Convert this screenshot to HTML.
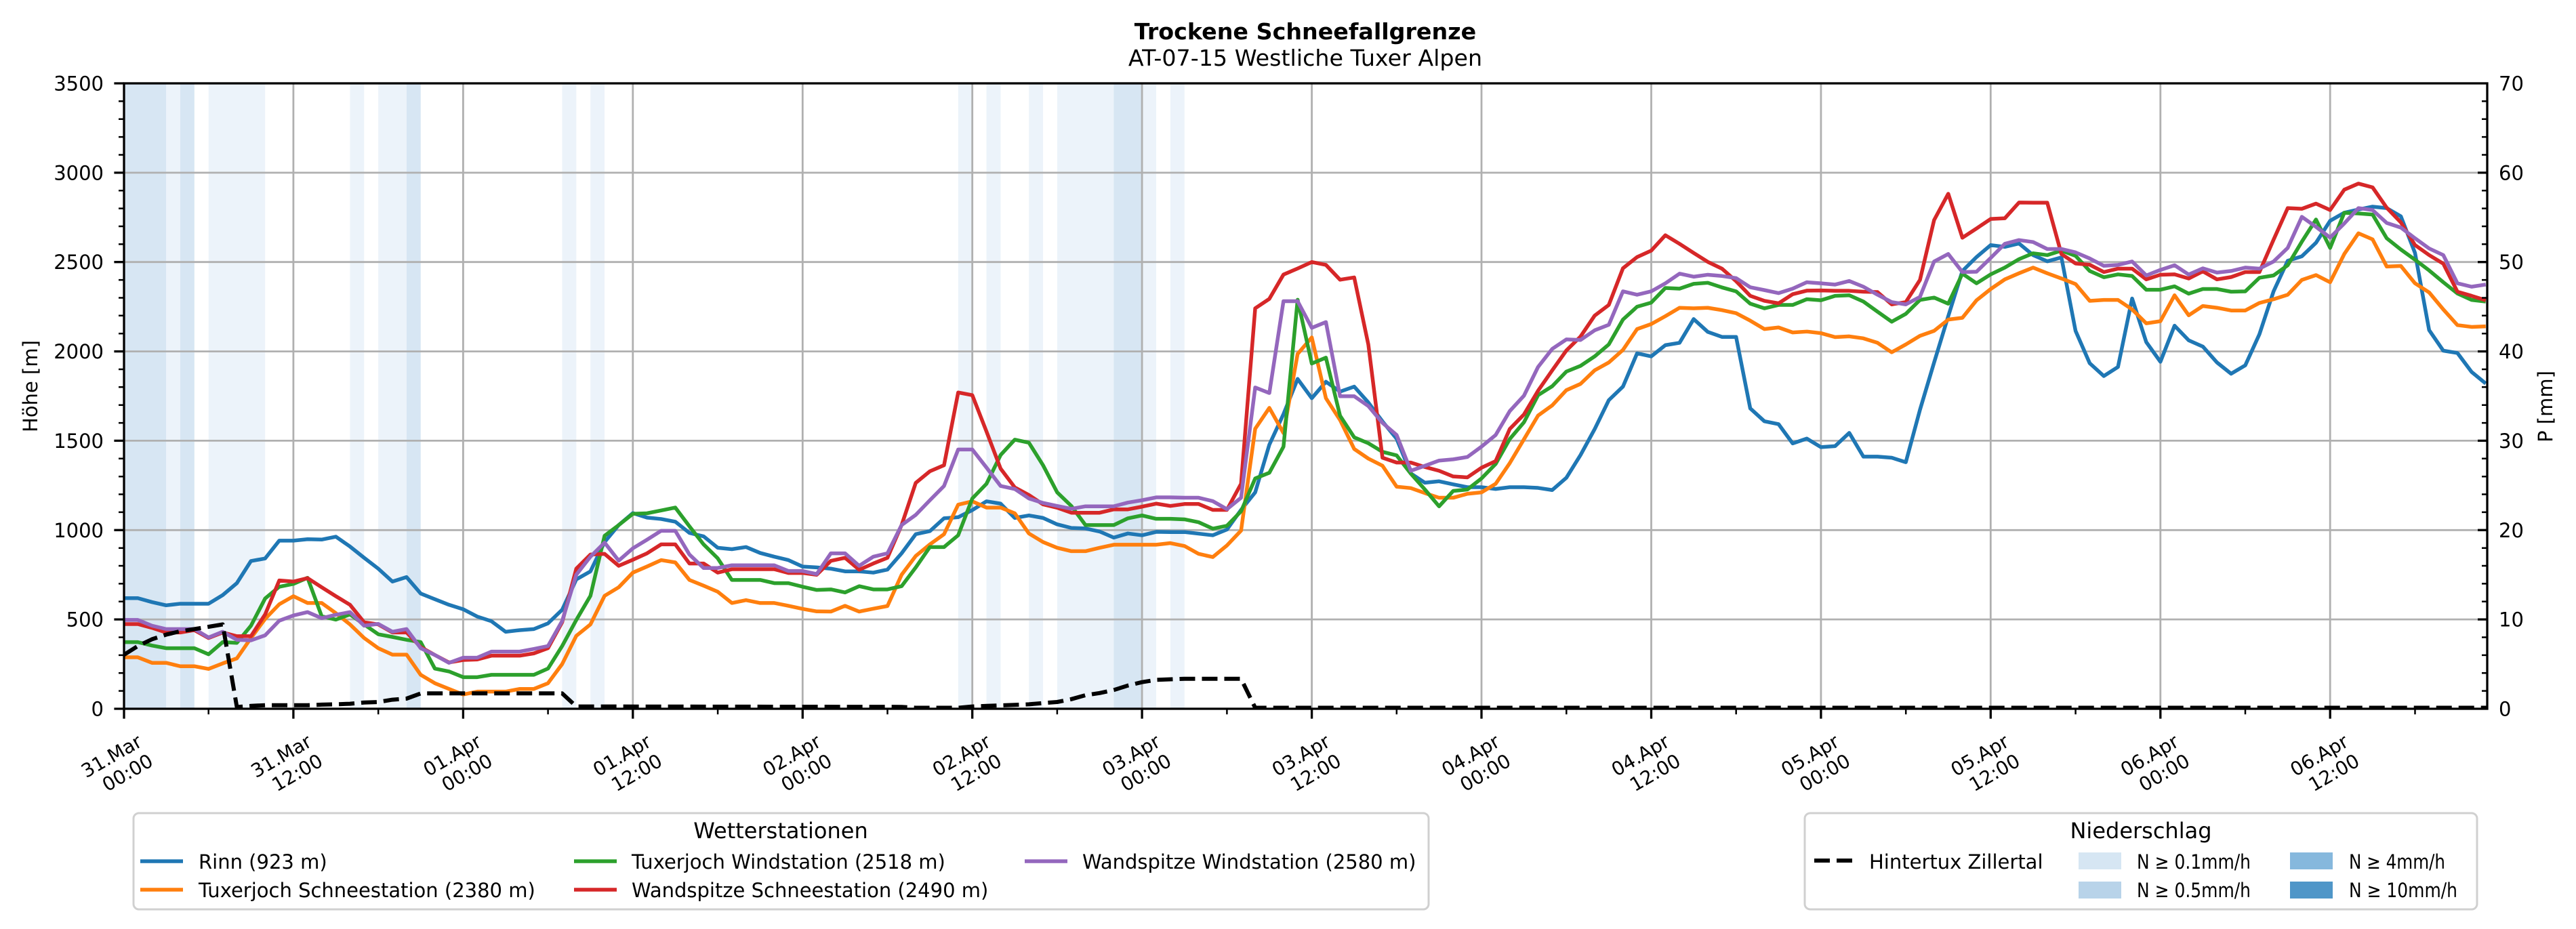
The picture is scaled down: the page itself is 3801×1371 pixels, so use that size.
<!DOCTYPE html>
<html><head><meta charset="utf-8">
<style>
html,body{margin:0;padding:0;background:#fff;}
svg{display:block;}
text{font-family:"DejaVu Sans","Liberation Sans",sans-serif;fill:#000;}
</style></head>
<body>
<svg width="3801" height="1371" viewBox="0 0 3801 1371" xmlns="http://www.w3.org/2000/svg">
<defs>
<clipPath id="ax"><rect x="183" y="123" width="3487" height="923"/></clipPath>
</defs>
<rect x="0" y="0" width="3801" height="1371" fill="#fff"/>

<!-- precipitation bands -->
<g transform="matrix(20.87 0 0 -0.26371 182.5 1046)">
<g fill="#ecf3fa">
<rect x="3" y="0" width="1" height="3500"/>
<rect x="6" y="0" width="4" height="3500"/>
<rect x="16" y="0" width="1" height="3500"/>
<rect x="18" y="0" width="2" height="3500"/>
<rect x="31" y="0" width="1" height="3500"/>
<rect x="33" y="0" width="1" height="3500"/>
<rect x="59" y="0" width="1" height="3500"/>
<rect x="61" y="0" width="1" height="3500"/>
<rect x="64" y="0" width="1" height="3500"/>
<rect x="66" y="0" width="4" height="3500"/>
<rect x="72" y="0" width="1" height="3500"/>
<rect x="74" y="0" width="1" height="3500"/>
</g>
<g fill="#d7e6f3">
<rect x="0" y="0" width="3" height="3500"/>
<rect x="4" y="0" width="1" height="3500"/>
<rect x="20" y="0" width="1" height="3500"/>
<rect x="70" y="0" width="2" height="3500"/>
</g>
</g>

<!-- grid -->
<g stroke="#b0b0b0" stroke-width="2.8" fill="none">
<path d="M432.9 123V1046M683.4 123V1046M933.8 123V1046M1184.3 123V1046M1434.7 123V1046M1685.1 123V1046M1935.6 123V1046M2186 123V1046M2436.5 123V1046M2686.9 123V1046M2937.3 123V1046M3187.8 123V1046M3438.2 123V1046"/>
<path d="M183 914.1H3670M183 782.3H3670M183 650.4H3670M183 518.6H3670M183 386.7H3670M183 254.9H3670"/>
</g>

<!-- series -->
<g clip-path="url(#ax)">
<g transform="matrix(20.87 0 0 -0.26371 182.5 1046)" fill="none" stroke-linejoin="round" stroke-linecap="butt">
<polyline vector-effect="non-scaling-stroke" stroke="#1f77b4" stroke-width="5.5" points="0,619 1,619 2,597 3,579 4,588 5,588 6,588 7,636 8,703 9,827 10,841 11,941 12,941 13,949 14,947 15,963 16,908 17,845 18,784 19,712 20,737 21,645 22,613 23,582 24,557 25,516 26,490 27,431 28,440 29,446 30,478 31,554 32,724 33,769 34,933 35,1028 36,1095 37,1070 38,1062 39,1047 40,984 41,965 42,901 43,893 44,905 45,872 46,851 47,832 48,796 49,791 50,784 51,769 52,769 53,762 54,779 55,870 56,977 57,994 58,1066 59,1072 60,1112 61,1161 62,1148 63,1068 64,1082 65,1068 66,1032 67,1012 68,1009 69,992 70,958 71,981 72,971 73,990 74,989 75,989 76,980 77,971 78,1003 79,1113 80,1211 81,1478 82,1649 83,1846 84,1738 85,1830 86,1775 87,1803 88,1714 89,1608 90,1511 91,1317 92,1265 93,1273 94,1256 95,1240 96,1240 97,1230 98,1240 99,1240 100,1236 101,1224 102,1293 103,1420 104,1565 105,1727 106,1803 107,1989 108,1972 109,2035 110,2048 111,2181 112,2109 113,2081 114,2081 115,1681 116,1609 117,1593 118,1485 119,1512 120,1464 121,1470 122,1544 123,1411 124,1411 125,1405 126,1380 127,1673 128,1938 129,2197 130,2450 131,2528 132,2595 133,2585 134,2604 135,2539 136,2504 137,2526 138,2115 139,1934 140,1862 141,1913 142,2296 143,2052 144,1942 145,2144 146,2062 147,2027 148,1938 149,1875 150,1922 151,2096 152,2336 153,2507 154,2532 155,2608 156,2731 157,2776 158,2794 159,2810 160,2802 161,2756 162,2551 163,2119 164,2004 165,1991 166,1885 167,1820"/>
<polyline vector-effect="non-scaling-stroke" stroke="#ff7f0e" stroke-width="5.5" points="0,288 1,288 2,257 3,257 4,238 5,238 6,223 7,254 8,282 9,396 10,503 11,585 12,630 13,592 14,592 15,535 16,472 17,396 18,339 19,303 20,303 21,190 22,143 23,111 24,80 25,96 26,96 27,96 28,111 29,111 30,143 31,250 32,408 33,472 34,632 35,680 36,762 37,796 38,832 39,819 40,721 41,689 42,655 43,592 44,608 45,592 46,592 47,576 48,559 49,545 50,544 51,576 52,544 53,560 54,575 55,750 56,855 57,920 58,977 59,1142 60,1161 61,1126 62,1126 63,1094 64,981 65,933 66,901 67,882 68,882 69,901 70,918 71,918 72,918 73,918 74,927 75,911 76,867 77,849 78,914 79,997 80,1567 81,1684 82,1543 83,1986 84,2078 85,1738 86,1616 87,1454 88,1400 89,1360 90,1243 91,1235 92,1207 93,1181 94,1181 95,1203 96,1211 97,1259 98,1375 99,1508 100,1641 101,1698 102,1783 103,1818 104,1894 105,1938 106,2008 107,2125 108,2153 109,2197 110,2244 111,2241 112,2244 113,2231 114,2214 115,2172 116,2125 117,2134 118,2106 119,2111 120,2102 121,2080 122,2084 123,2073 124,2048 125,1995 126,2039 127,2087 128,2115 129,2178 130,2188 131,2286 132,2349 133,2403 134,2437 135,2469 136,2437 137,2408 138,2377 139,2283 140,2288 141,2288 142,2235 143,2157 144,2169 145,2314 146,2202 147,2254 148,2244 149,2229 150,2229 151,2271 152,2292 153,2317 154,2400 155,2427 156,2387 157,2545 158,2661 159,2627 160,2475 161,2478 162,2381 163,2330 164,2235 165,2147 166,2137 167,2140"/>
<polyline vector-effect="non-scaling-stroke" stroke="#2ca02c" stroke-width="5.5" points="0,373 1,373 2,354 3,339 4,339 5,339 6,305 7,373 8,369 9,465 10,617 11,683 12,699 13,733 14,518 15,499 16,528 17,472 18,417 19,402 20,386 21,373 22,225 23,209 24,177 25,177 26,190 27,190 28,190 29,190 30,225 31,351 32,497 33,632 34,968 35,1028 36,1091 37,1094 38,1110 39,1126 40,1021 41,920 42,842 43,721 44,721 45,721 46,703 47,703 48,683 49,665 50,668 51,651 52,686 53,668 54,668 55,686 56,791 57,905 58,905 59,971 60,1177 61,1259 62,1420 63,1506 64,1489 65,1363 66,1211 67,1135 68,1028 69,1028 70,1028 71,1066 72,1082 73,1063 74,1063 75,1060 76,1044 77,1008 78,1024 79,1105 80,1289 81,1321 82,1467 83,2289 84,1932 85,1965 86,1640 87,1519 88,1486 89,1438 90,1418 91,1316 92,1227 93,1133 94,1219 95,1227 96,1289 97,1370 98,1510 99,1603 100,1755 101,1805 102,1887 103,1919 104,1972 105,2039 106,2178 107,2250 108,2273 109,2355 110,2351 111,2378 112,2384 113,2358 114,2336 115,2267 116,2241 117,2260 118,2260 119,2292 120,2286 121,2311 122,2314 123,2279 124,2222 125,2166 126,2210 127,2288 128,2301 129,2267 130,2435 131,2381 132,2431 133,2469 134,2516 135,2549 136,2539 137,2564 138,2535 139,2450 140,2415 141,2431 142,2422 143,2345 144,2345 145,2364 146,2323 147,2349 148,2349 149,2334 150,2336 151,2412 152,2425 153,2482 154,2614 155,2738 156,2579 157,2776 158,2772 159,2766 160,2633 161,2570 162,2513 163,2453 164,2387 165,2324 166,2288 167,2279"/>
<polyline vector-effect="non-scaling-stroke" stroke="#d62728" stroke-width="5.5" points="0,474 1,474 2,453 3,427 4,427 5,440 6,396 7,427 8,406 9,406 10,528 11,718 12,712 13,731 14,680 15,630 16,582 17,484 18,472 19,427 20,427 21,345 22,301 23,259 24,273 25,276 26,297 27,297 28,297 29,310 30,339 31,484 32,784 33,863 34,867 35,800 36,834 37,870 38,920 39,920 40,813 41,813 42,762 43,781 44,781 45,781 46,781 47,760 48,760 49,750 50,828 51,845 52,778 53,813 54,845 55,1028 56,1264 57,1329 58,1363 59,1770 60,1755 61,1552 62,1344 63,1239 64,1196 65,1144 66,1125 67,1097 68,1097 69,1097 70,1116 71,1116 72,1131 73,1148 74,1135 75,1146 76,1146 77,1113 78,1113 79,1259 80,2241 81,2294 82,2430 83,2464 84,2500 85,2484 86,2401 87,2414 88,2038 89,1405 90,1378 91,1378 92,1353 93,1332 94,1300 95,1295 96,1349 97,1386 98,1566 99,1647 100,1780 101,1894 102,2005 103,2083 104,2200 105,2260 106,2465 107,2528 108,2564 109,2650 110,2602 111,2551 112,2501 113,2463 114,2393 115,2311 116,2283 117,2269 118,2320 119,2340 120,2341 121,2339 122,2339 123,2334 124,2332 125,2263 126,2276 127,2400 128,2735 129,2882 130,2636 131,2688 132,2741 133,2745 134,2833 135,2832 136,2832 137,2545 138,2492 139,2485 140,2444 141,2463 142,2463 143,2403 144,2429 145,2431 146,2408 147,2448 148,2403 149,2416 150,2444 151,2444 152,2625 153,2802 154,2798 155,2827 156,2791 157,2905 158,2939 159,2918 160,2804 161,2722 162,2595 163,2539 164,2491 165,2334 166,2311 167,2286"/>
<polyline vector-effect="non-scaling-stroke" stroke="#9467bd" stroke-width="5.5" points="0,497 1,497 2,465 3,446 4,446 5,446 6,399 7,431 8,386 9,383 10,411 11,493 12,522 13,541 14,507 15,526 16,541 17,465 18,475 19,431 20,446 21,339 22,301 23,257 24,286 25,286 26,320 27,320 28,320 29,335 30,351 31,491 32,750 33,851 34,930 35,829 36,898 37,946 38,996 39,996 40,863 41,788 42,788 43,803 44,803 45,803 46,803 47,771 48,771 49,754 50,870 51,870 52,800 53,851 54,870 55,1028 56,1085 57,1167 58,1247 59,1451 60,1451 61,1350 62,1247 63,1230 64,1177 65,1152 66,1135 67,1119 68,1133 69,1133 70,1133 71,1154 72,1167 73,1183 74,1183 75,1181 76,1181 77,1162 78,1117 79,1181 80,1798 81,1767 82,2281 83,2281 84,2132 85,2164 86,1749 87,1749 88,1694 89,1600 90,1532 91,1332 92,1360 93,1389 94,1396 95,1409 96,1467 97,1532 98,1666 99,1752 100,1913 101,2014 102,2067 103,2064 104,2118 105,2149 106,2336 107,2317 108,2336 109,2381 110,2435 111,2418 112,2429 113,2422 114,2410 115,2359 116,2343 117,2326 118,2351 119,2387 120,2381 121,2374 122,2394 123,2362 124,2317 125,2276 126,2263 127,2305 128,2503 129,2545 130,2444 131,2446 132,2523 133,2602 134,2623 135,2612 136,2573 137,2573 138,2554 139,2520 140,2479 141,2484 142,2503 143,2425 144,2456 145,2482 146,2430 147,2465 148,2441 149,2450 150,2469 151,2463 152,2503 153,2579 154,2753 155,2697 156,2637 157,2716 158,2802 159,2791 160,2719 161,2693 162,2633 163,2576 164,2539 165,2381 166,2362 167,2374"/>
</g>
<polyline fill="none" stroke="#000" stroke-width="6" stroke-dasharray="23,10" stroke-linejoin="round" points="182.5,966.6 203.4,953.4 224.2,943.4 245.1,936.6 266,931.6 286.9,928.4 307.7,925 328.6,921.5 349.5,1043.4 370.3,1041.8 391.2,1040.7 453.8,1040.7 474.7,1039.9 495.6,1039.4 516.4,1038.6 537.3,1036.8 558.2,1036 579,1032.6 599.9,1031 620.8,1023.3 829.5,1023.3 850.3,1042.6 1330.4,1043.2 1351.2,1044.5 1413.8,1044.5 1434.7,1042.6 1455.6,1041.8 1476.4,1041 1497.3,1040.2 1518.2,1039.4 1539.1,1037.6 1559.9,1036 1580.8,1031.8 1601.7,1026 1622.5,1022.8 1643.4,1018.3 1664.3,1011.7 1685.1,1006.7 1706,1003.3 1726.9,1002.5 1747.8,1001.7 1831.2,1001.7 1852.1,1044.5 3670,1044.5"/>
</g>

<!-- spines -->
<rect x="183" y="123" width="3487" height="923" fill="none" stroke="#000" stroke-width="3.3"/>

<!-- ticks -->
<g stroke="#000" stroke-width="3.3" fill="none">
<path d="M168.4 1046H183M168.4 914.1H183M168.4 782.3H183M168.4 650.4H183M168.4 518.6H183M168.4 386.7H183M168.4 254.9H183M168.4 123H183"/>
<path stroke-width="2.5" d="M175 1019.6H183M175 993.3H183M175 966.9H183M175 940.5H183M175 887.8H183M175 861.4H183M175 835H183M175 808.7H183M175 755.9H183M175 729.5H183M175 703.2H183M175 676.8H183M175 624.1H183M175 597.7H183M175 571.3H183M175 545H183M175 492.2H183M175 465.8H183M175 439.5H183M175 413.1H183M175 360.4H183M175 334H183M175 307.6H183M175 281.2H183M175 228.5H183M175 202.1H183M175 175.8H183M175 149.4H183"/>
<path d="M3656 914.1H3670M3656 782.3H3670M3656 650.4H3670M3656 518.6H3670M3656 386.7H3670M3656 254.9H3670"/>
<path stroke-width="2.5" d="M3662 1019.6H3670M3662 993.3H3670M3662 966.9H3670M3662 940.5H3670M3662 887.8H3670M3662 861.4H3670M3662 835H3670M3662 808.7H3670M3662 755.9H3670M3662 729.5H3670M3662 703.2H3670M3662 676.8H3670M3662 624.1H3670M3662 597.7H3670M3662 571.3H3670M3662 545H3670M3662 492.2H3670M3662 465.8H3670M3662 439.5H3670M3662 413.1H3670M3662 360.4H3670M3662 334H3670M3662 307.6H3670M3662 281.2H3670M3662 228.5H3670M3662 202.1H3670M3662 175.8H3670M3662 149.4H3670"/>
<path d="M183 1046V1060.6M432.9 1046V1060.6M683.4 1046V1060.6M933.8 1046V1060.6M1184.3 1046V1060.6M1434.7 1046V1060.6M1685.1 1046V1060.6M1935.6 1046V1060.6M2186 1046V1060.6M2436.5 1046V1060.6M2686.9 1046V1060.6M2937.3 1046V1060.6M3187.8 1046V1060.6M3438.2 1046V1060.6"/>
<path stroke-width="2.5" d="M307.7 1046V1054.3M558.2 1046V1054.3M808.6 1046V1054.3M1059.1 1046V1054.3M1309.5 1046V1054.3M1559.9 1046V1054.3M1810.4 1046V1054.3M2060.8 1046V1054.3M2311.3 1046V1054.3M2561.7 1046V1054.3M2812.2 1046V1054.3M3062.6 1046V1054.3M3313 1046V1054.3M3563.5 1046V1054.3"/>
</g>

<!-- titles -->
<text x="1926" y="58" font-size="33.3" font-weight="bold" text-anchor="middle">Trockene Schneefallgrenze</text>
<text x="1926" y="97" font-size="33.3" text-anchor="middle">AT-07-15 Westliche Tuxer Alpen</text>

<!-- left y tick labels -->
<g font-size="29" text-anchor="end">
<text x="153" y="1056.5">0</text>
<text x="153" y="924.6">500</text>
<text x="153" y="792.8">1000</text>
<text x="153" y="660.9">1500</text>
<text x="153" y="529.1">2000</text>
<text x="153" y="397.2">2500</text>
<text x="153" y="265.4">3000</text>
<text x="153" y="133.5">3500</text>
</g>
<!-- right y tick labels -->
<g font-size="29" text-anchor="start">
<text x="3687" y="1056.5">0</text>
<text x="3687" y="924.6">10</text>
<text x="3687" y="792.8">20</text>
<text x="3687" y="660.9">30</text>
<text x="3687" y="529.1">40</text>
<text x="3687" y="397.2">50</text>
<text x="3687" y="265.4">60</text>
<text x="3687" y="133.5">70</text>
</g>

<text transform="translate(55,570) rotate(-90)" font-size="29" text-anchor="middle">Höhe [m]</text>
<text transform="translate(3766,600) rotate(-90)" font-size="29" text-anchor="middle">P [mm]</text>

<!-- x tick labels -->
<g font-size="28" text-anchor="end">
<text transform="translate(211.5,1100) rotate(-30)"><tspan x="0" y="0">31.Mar</tspan><tspan x="0" y="33">00:00</tspan></text>
<text transform="translate(461.9,1100) rotate(-30)"><tspan x="0" y="0">31.Mar</tspan><tspan x="0" y="33">12:00</tspan></text>
<text transform="translate(712.4,1100) rotate(-30)"><tspan x="0" y="0">01.Apr</tspan><tspan x="0" y="33">00:00</tspan></text>
<text transform="translate(962.8,1100) rotate(-30)"><tspan x="0" y="0">01.Apr</tspan><tspan x="0" y="33">12:00</tspan></text>
<text transform="translate(1213.3,1100) rotate(-30)"><tspan x="0" y="0">02.Apr</tspan><tspan x="0" y="33">00:00</tspan></text>
<text transform="translate(1463.7,1100) rotate(-30)"><tspan x="0" y="0">02.Apr</tspan><tspan x="0" y="33">12:00</tspan></text>
<text transform="translate(1714.1,1100) rotate(-30)"><tspan x="0" y="0">03.Apr</tspan><tspan x="0" y="33">00:00</tspan></text>
<text transform="translate(1964.6,1100) rotate(-30)"><tspan x="0" y="0">03.Apr</tspan><tspan x="0" y="33">12:00</tspan></text>
<text transform="translate(2215,1100) rotate(-30)"><tspan x="0" y="0">04.Apr</tspan><tspan x="0" y="33">00:00</tspan></text>
<text transform="translate(2465.5,1100) rotate(-30)"><tspan x="0" y="0">04.Apr</tspan><tspan x="0" y="33">12:00</tspan></text>
<text transform="translate(2715.9,1100) rotate(-30)"><tspan x="0" y="0">05.Apr</tspan><tspan x="0" y="33">00:00</tspan></text>
<text transform="translate(2966.3,1100) rotate(-30)"><tspan x="0" y="0">05.Apr</tspan><tspan x="0" y="33">12:00</tspan></text>
<text transform="translate(3216.8,1100) rotate(-30)"><tspan x="0" y="0">06.Apr</tspan><tspan x="0" y="33">00:00</tspan></text>
<text transform="translate(3467.2,1100) rotate(-30)"><tspan x="0" y="0">06.Apr</tspan><tspan x="0" y="33">12:00</tspan></text>
</g>

<!-- left legend -->
<rect x="197" y="1200" width="1911" height="142" rx="8" ry="8" fill="#fff" stroke="#d0d0d0" stroke-width="3"/>
<text x="1152" y="1237" font-size="32" text-anchor="middle">Wetterstationen</text>
<g stroke-width="5.5">
<line x1="207" y1="1271" x2="270" y2="1271" stroke="#1f77b4"/>
<line x1="207" y1="1313" x2="270" y2="1313" stroke="#ff7f0e"/>
<line x1="847" y1="1271" x2="910" y2="1271" stroke="#2ca02c"/>
<line x1="847" y1="1313" x2="910" y2="1313" stroke="#d62728"/>
<line x1="1512" y1="1271" x2="1575" y2="1271" stroke="#9467bd"/>
</g>
<g font-size="29">
<text x="293" y="1282">Rinn (923 m)</text>
<text x="293" y="1324">Tuxerjoch Schneestation (2380 m)</text>
<text x="932" y="1282">Tuxerjoch Windstation (2518 m)</text>
<text x="932" y="1324">Wandspitze Schneestation (2490 m)</text>
<text x="1597" y="1282">Wandspitze Windstation (2580 m)</text>
</g>

<!-- right legend -->
<rect x="2663" y="1200" width="992" height="142" rx="8" ry="8" fill="#fff" stroke="#d0d0d0" stroke-width="3"/>
<text x="3159" y="1237" font-size="32" text-anchor="middle">Niederschlag</text>
<line x1="2677" y1="1270" x2="2733" y2="1270" stroke="#000" stroke-width="6" stroke-dasharray="23,10"/>
<rect x="3067" y="1258" width="63" height="25" fill="#d6e6f3"/>
<rect x="3067" y="1301" width="63" height="25" fill="#b8d3e9"/>
<rect x="3379" y="1258" width="63" height="25" fill="#86b8dd"/>
<rect x="3379" y="1301" width="63" height="25" fill="#4f96c8"/>
<g font-size="29">
<text x="2758" y="1282">Hintertux Zillertal</text>
<text x="3153" y="1282" textLength="168" lengthAdjust="spacingAndGlyphs">N ≥ 0.1mm/h</text>
<text x="3153" y="1324" textLength="168" lengthAdjust="spacingAndGlyphs">N ≥ 0.5mm/h</text>
<text x="3466" y="1282" textLength="142" lengthAdjust="spacingAndGlyphs">N ≥ 4mm/h</text>
<text x="3466" y="1324" textLength="160" lengthAdjust="spacingAndGlyphs">N ≥ 10mm/h</text>
</g>
</svg>
</body></html>
